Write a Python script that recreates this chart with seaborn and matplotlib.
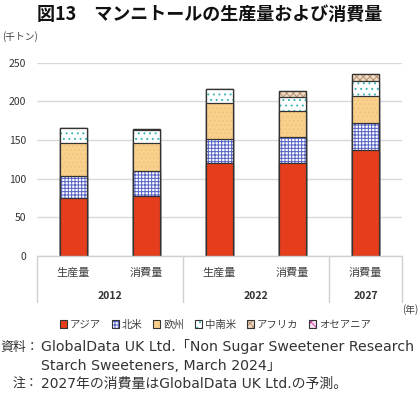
import numpy as np
import pandas as pd
import matplotlib
matplotlib.use("Agg")
import matplotlib.pyplot as plt
import matplotlib.colors as mcolors
from matplotlib.patches import Patch
import seaborn as sns

# データ（千トン）
years = ["2012", "2012", "2022", "2022", "2027"]
kinds = ["生産量", "消費量", "生産量", "消費量", "消費量"]
regions = ["アジア", "北米", "欧州", "中南米", "アフリカ", "オセアニア"]
asia = [75, 78, 120, 120, 137]
north_america = [29, 32, 31, 34, 35]
europe = [42, 36, 47, 33, 35]
latin_america = [19, 17, 18, 19, 19]
africa = [0, 1, 0, 8, 9]
oceania = [0, 0.5, 0, 0, 0.5]
yticks = [0, 50, 100, 150, 200, 250]

sns.set_theme(style="white")
plt.rcParams['font.family'] = ['Noto Sans CJK JP', 'DejaVu Sans']
plt.rcParams['hatch.linewidth'] = 0.7
NOTE_FONT = ['DejaVu Sans', 'Noto Sans CJK JP']

keys = [f"{y}{k}" for y, k in zip(years, kinds)]
df = pd.DataFrame({"key": keys, "アジア": asia, "北米": north_america, "欧州": europe,
                   "中南米": latin_america, "アフリカ": africa, "オセアニア": oceania})

# 塗り色・ハッチ・ハッチ色
styles = {
    "アジア":     ("#E63E1C", None, None),
    "北米":       ("#FFFFFF", "+++++", "#5561C4"),
    "欧州":       ("#F9D08C", "....", "#F2C27A"),
    "中南米":     ("#FFFFFF", "...", "#3FB7B9"),
    "アフリカ":   ("#EEDCC8", "xxxxx", "#B8906A"),
    "オセアニア": ("#F8E0F0", "xxx", "#D048A8"),
}


def set_hatch_color(patch, color):
    if color is None:
        return
    if hasattr(patch, "set_hatchcolor"):
        patch.set_hatchcolor(color)
    else:
        patch._hatch_color = mcolors.to_rgba(color)


fig = plt.figure(figsize=(4.2, 3.93), dpi=100)
ax = fig.add_axes([0.088, 0.3486, 0.869, 0.4919])

# 積み上げ：累積値を上から順に重ねて描く
cum = df[regions].cumsum(axis=1)
for r in reversed(regions):
    face, hatch, hc = styles[r]
    d = pd.DataFrame({"key": keys, "v": cum[r]})
    sns.barplot(data=d, x="key", y="v", order=keys, color=face, saturation=1,
                width=0.38, edgecolor="#333333", linewidth=0.9, hatch=hatch, ax=ax)
    for p in ax.containers[-1]:
        set_hatch_color(p, hc)

ax.set_xlim(-0.5, 4.5)
ax.set_ylim(0, 250)
ax.set_yticks(yticks)
ax.set_yticklabels([str(t) for t in yticks], fontsize=7.5, color="#333333")
ax.tick_params(axis="y", length=0, pad=8)
ax.grid(axis="y", color="#D9D9D9", linewidth=1)
ax.set_axisbelow(True)
for s in ax.spines.values():
    s.set_visible(False)
ax.set_xticks([])
ax.set_xlabel("")
ax.set_ylabel("")

# 2段の横軸ラベル
tr = ax.get_xaxis_transform()
ax.plot([-0.5, 4.5], [0, 0], transform=tr, color="#D0D0D0", lw=1, clip_on=False)
for xb in [-0.5, 1.5, 3.5, 4.5]:
    ax.plot([xb, xb], [0, -0.238], transform=tr, color="#D0D0D0", lw=1, clip_on=False)
for i, k in enumerate(kinds):
    ax.text(i, -0.086, k, transform=tr, ha="center", va="center", fontsize=8, color="#404040")
for xc, y in [(0.5, "2012"), (2.5, "2022"), (4, "2027")]:
    ax.text(xc, -0.207, y, transform=tr, ha="center", va="center", fontsize=7.5,
            fontweight="bold", color="#333333")

fig.text(0.499, 0.964, "図13　マンニトールの生産量および消費量", ha="center", va="center",
         fontsize=13, fontweight="bold", color="#111111")
fig.text(0.005, 0.907, "(千トン)", ha="left", va="center", fontsize=7, color="#404040")
fig.text(0.997, 0.213, "(年)", ha="right", va="center", fontsize=7, color="#404040")

handles = []
for r in regions:
    face, hatch, hc = styles[r]
    h = Patch(facecolor=face, edgecolor="#333333", hatch=hatch, linewidth=0.8, label=r)
    set_hatch_color(h, hc)
    handles.append(h)
fig.legend(handles=handles, loc="center", bbox_to_anchor=(0.513, 0.174), ncol=6,
           frameon=False, fontsize=7.5, handlelength=0.7, handleheight=0.7,
           handletextpad=0.3, columnspacing=1.0, labelcolor="#404040")

# 出所・注（ベースライン揃え）
fig.text(0.0, 0.106, "資料：", ha="left", va="baseline", fontsize=9.3,
         family=NOTE_FONT, color="#333333")
fig.text(0.097, 0.106, "GlobalData UK Ltd.「Non Sugar Sweetener Research",
         ha="left", va="baseline", fontsize=10.2, family=NOTE_FONT, color="#333333")
fig.text(0.097, 0.058, "Starch Sweeteners, March 2024」",
         ha="left", va="baseline", fontsize=10.2, family=NOTE_FONT, color="#333333")
fig.text(0.029, 0.013, "注：", ha="left", va="baseline", fontsize=9.3,
         family=NOTE_FONT, color="#333333")
fig.text(0.097, 0.013, "2027年の消費量はGlobalData UK Ltd.の予測。",
         ha="left", va="baseline", fontsize=10, family=NOTE_FONT, color="#333333")

fig.savefig("out.png", dpi=100)
